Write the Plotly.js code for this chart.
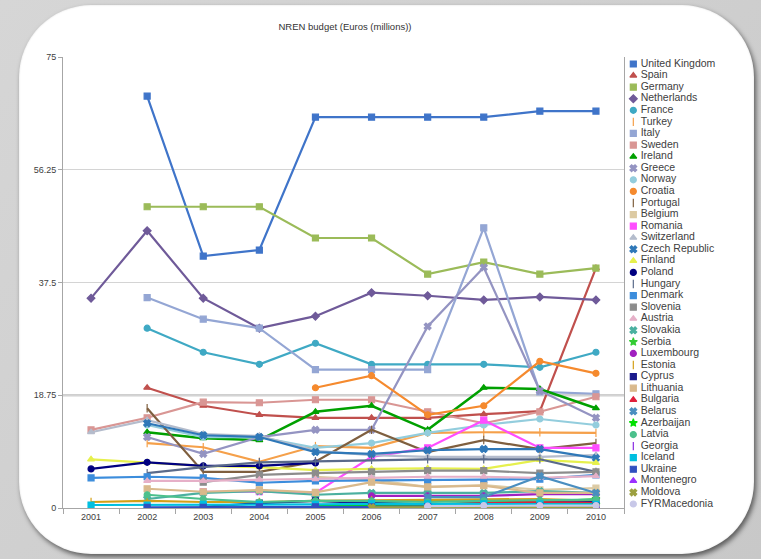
<!DOCTYPE html>
<html>
<head>
<meta charset="utf-8">
<script src="https://cdn.plot.ly/plotly-3.0.1.min.js"></script>
<style>
  html, body { margin:0; padding:0; width:761px; height:559px; overflow:hidden;
    background: linear-gradient(135deg, #d6d6d6 0%, #cfcfcf 50%, #c8c8c8 100%); font-family: "Liberation Sans", Arial, sans-serif; }
  #panel { position:absolute; left:19px; top:5px; width:735px; height:549px; background:#ffffff;
    border-radius:72px; box-shadow: 2px 3px 5px rgba(0,0,0,0.55), inset 0 0 2px rgba(0,0,0,0.15); }
  #chart { position:absolute; left:0; top:0; width:761px; height:559px; }
</style>
</head>
<body>
<div id="panel"></div>
<div id="chart"></div>
<script>
// ---- data (Euros, millions) ----
const years = ['2001','2002','2003','2004','2005','2006','2007','2008','2009','2010'];
const countries = ['United Kingdom','Spain','Germany','Netherlands','France','Turkey','Italy','Sweden','Ireland','Greece',
  'Norway','Croatia','Portugal','Belgium','Romania','Switzerland','Czech Republic','Finland','Poland','Hungary',
  'Denmark','Slovenia','Austria','Slovakia','Serbia','Luxembourg','Estonia','Cyprus','Lithuania','Bulgaria',
  'Belarus','Azerbaijan','Latvia','Georgia','Iceland','Ukraine','Montenegro','Moldova','FYRMacedonia'];

const unitedKingdom = [null, 68.5, 41.9, 42.9, 65.0, 65.0, 65.0, 65.0, 66.0, 66.0];
const spain         = [null, 20.0, 17.0, 15.5, 15.0, 15.0, 15.0, 15.6, 16.1, 39.9];
const germany       = [null, 50.1, 50.1, 50.1, 44.9, 44.9, 38.9, 40.9, 38.9, 39.9];
const netherlands   = [34.9, 46.1, 34.9, 29.9, 31.9, 35.8, 35.3, 34.6, 35.1, 34.6];
const france        = [null, 29.9, 25.9, 23.9, 27.4, 23.9, 23.9, 23.9, 23.4, 25.9];
const turkey        = [null, 10.8, 10.1, 7.7, 10.3, 10.0, 12.5, 12.6, 12.6, 12.5];
const italy         = [null, 35.0, 31.4, 29.9, 23.0, 23.0, 23.0, 46.6, 19.3, 19.0];
const sweden        = [13.0, 15.0, 17.6, 17.5, 18.0, 18.0, 16.0, 14.1, 16.0, 18.5];
const ireland       = [null, 12.6, 11.6, 11.3, 16.0, 17.0, 13.0, 20.0, 19.8, 16.6];
const greece        = [null, 11.8, 9.0, 11.8, 13.0, 13.0, 30.2, 40.0, 19.5, 15.0];
const norway        = [null, 13.8, 11.8, 11.8, 10.0, 10.8, 12.5, 13.8, 14.8, 13.8];
const croatia       = [null, null, null, null, 20.0, 22.0, 15.5, 17.0, 24.4, 22.4];
const portugal      = [null, 16.6, 6.0, 6.0, 7.7, 13.0, 9.3, 11.3, 9.8, 10.8];
const belgium       = [null, null, null, null, 5.2, 4.7, 3.5, 3.8, 3.0, 3.3];
const romania       = [null, null, 2.7, 2.7, 2.5, 8.5, 10.0, 14.6, 10.0, 10.0];
const switzerland   = [12.6, 14.6, 12.3, 12.0, 9.5, 8.8, 8.5, 8.5, 8.5, 8.8];
const czechRepublic = [null, 14.1, 12.1, 11.8, 9.3, 9.0, 9.6, 9.8, 9.8, 8.3];
const finland       = [8.1, 7.6, 7.0, 6.8, 6.3, 6.5, 6.6, 6.5, 8.0, 7.5];
const poland        = [6.5, 7.6, 7.0, 7.0, 7.5, null, null, null, null, null];
const hungary       = [null, 5.8, 6.8, 7.6, 7.8, 8.0, 8.1, 8.1, 8.1, 6.0];
const denmark       = [5.0, 5.2, 5.0, 4.2, 4.5, 4.6, 4.6, 4.7, 4.8, 5.5];
const slovenia      = [null, null, 4.3, 5.5, 5.8, 6.0, 6.2, 6.2, 5.8, 6.0];
const austria       = [null, 4.5, 4.5, 4.7, 4.8, 5.0, 5.2, 5.2, 5.0, 5.3];
const slovakia      = [null, 1.5, 2.5, 2.8, 2.2, 2.5, 2.5, 2.5, 2.8, 2.5];
const serbia        = [null, null, null, null, 1.2, 1.0, 1.2, 1.0, 1.0, 1.5];
const luxembourg    = [null, null, null, null, null, 2.0, 2.0, 2.0, 2.3, 2.3];
const estonia       = [1.0, 1.2, 1.0, 1.0, 1.2, 1.3, 1.4, 1.5, 1.5, 1.2];
const cyprus        = [null, null, 0.2, 0.8, 1.2, 0.8, 0.6, 0.8, 0.9, 1.0];
const lithuania     = [null, 3.2, 2.7, 3.0, 2.6, 4.3, 3.5, 3.7, 2.5, 2.5];
const bulgaria      = [null, null, null, null, 0.5, 0.5, 0.5, 0.8, 1.0, 0.8];
const belarus       = [null, null, null, null, null, null, 1.8, 1.8, 5.3, 2.5];
const azerbaijan    = [null, null, null, null, 0.3, 0.5, 0.5, 0.5, 0.6, 0.6];
const latvia        = [null, 2.2, 1.5, 1.0, 1.2, 1.2, 1.0, 1.2, 1.3, 1.4];
const georgia       = [null, null, null, null, null, 0.2, 0.2, 0.3, 0.3, 0.3];
const iceland       = [0.5, 0.5, 0.6, 0.6, 0.6, 0.7, 0.7, 0.7, 0.7, 0.6];
const ukraine       = [null, 0.1, 0.1, 0.2, 0.2, 0.2, 0.2, 0.2, 0.3, 0.3];
const montenegro    = [null, null, null, null, null, null, 0.3, 0.3, 0.3, 0.3];
const moldova       = [null, null, null, null, null, 0.1, 0.1, 0.1, 0.1, 0.2];
const fyrMacedonia  = [null, null, null, null, null, null, 0.3, 0.4, 0.4, 0.4];

const yTicks = [0, 18.75, 37.5, 56.25, 75];
const yTickText = ['0', '18.75', '37.5', '56.25', '75'];

// ---- styles ----
const seriesValues = [unitedKingdom, spain, germany, netherlands, france, turkey, italy, sweden, ireland, greece,
  norway, croatia, portugal, belgium, romania, switzerland, czechRepublic, finland, poland, hungary,
  denmark, slovenia, austria, slovakia, serbia, luxembourg, estonia, cyprus, lithuania, bulgaria,
  belarus, azerbaijan, latvia, georgia, iceland, ukraine, montenegro, moldova, fyrMacedonia];
const colors = ['#3f74c9','#c0504d','#9bbb59','#6f5a99','#3fa9c4','#f5a04a','#94a6d4','#d99694','#00a000','#9494c2',
  '#93cddd','#f58a2e','#7f5f3f','#dccaa3','#ff4dff','#b4bccc','#2f78b8','#e6f04d','#000080','#5a6a8a',
  '#3c8ddc','#8c8c8c','#e6b0c8','#4bb0a0','#33cc33','#a020c0','#d4a017','#1a1a8c','#d9b98c','#e0203c',
  '#4a8ec0','#00e000','#4cc08c','#8a2be2','#00bfe0','#3050c0','#9b30ff','#9ca040','#c8c8e8'];
const symbols = ['square','triangle-up','square','diamond','circle','line-ns','square','square','triangle-up','x',
  'circle','circle','line-ns','square','square','triangle-up','x','triangle-up','circle','line-ns',
  'square','square','triangle-up','x','star','circle','line-ns','square','square','triangle-up',
  'x','star','circle','line-ns','square','square','triangle-up','x','circle'];
const widths = countries.map((c) => (c === 'Ireland' ? 2.6 : 2.2));

const traces = seriesValues.map((vals, i) => ({
  type: 'scatter', mode: 'lines+markers', name: countries[i],
  x: years, y: vals, xaxis: 'x', yaxis: 'y',
  line: {color: colors[i], width: widths[i]},
  marker: {symbol: symbols[i], size: 6, color: colors[i], line: {color: colors[i], width: 1.2}},
  connectgaps: false, showlegend: false, hoverinfo: 'skip'
}));

// custom legend drawn on its own axes
const legendIdx = countries.map((c, i) => i);
traces.push({
  type: 'scatter', mode: 'markers', x: countries.map(() => 0.04), y: legendIdx,
  xaxis: 'x2', yaxis: 'y2', showlegend: false, hoverinfo: 'skip', cliponaxis: false,
  marker: {symbol: symbols, size: 6, color: colors, line: {color: colors, width: 1.2}}
});
traces.push({
  type: 'scatter', mode: 'text', x: countries.map(() => 0.095), y: legendIdx, text: countries,
  textposition: 'middle right', xaxis: 'x2', yaxis: 'y2', showlegend: false, hoverinfo: 'skip', cliponaxis: false,
  textfont: {family: 'Liberation Sans, Arial, sans-serif', size: 10.5, color: '#404040'}
});

const W = 761, H = 559;
const nLeg = countries.length;
const legTop = 64, legBottom = 504;
const legStep = (legBottom - legTop) / (nLeg - 1);
const layout = {
  width: W, height: H, margin: {l: 0, r: 0, t: 0, b: 0},
  paper_bgcolor: 'rgba(0,0,0,0)', plot_bgcolor: 'rgba(0,0,0,0)',
  showlegend: false, hovermode: false,
  font: {family: 'Liberation Sans, Arial, sans-serif', color: '#404040'},
  title: {text: 'NREN budget (Euros (millions))', x: 345 / W, xanchor: 'center', y: 1 - 27 / H, yanchor: 'middle',
          font: {family: 'Liberation Sans, Arial, sans-serif', size: 9.5, color: '#333333'}},
  xaxis: {type: 'category', categoryorder: 'array', categoryarray: years,
          domain: [63 / W, 624 / W], range: [-0.5, 9.5], anchor: 'y',
          showline: true, linecolor: '#a6a6a6', linewidth: 1, showgrid: false, zeroline: false,
          ticks: 'outside', tickson: 'boundaries', ticklen: 5, tickcolor: '#a6a6a6',
          tickfont: {size: 9, color: '#404040'}, fixedrange: true},
  yaxis: {domain: [1 - 508 / H, 1 - 57 / H], range: [0, 75], anchor: 'x',
          tickvals: yTicks, ticktext: yTickText, tickfont: {size: 9, color: '#404040'},
          showgrid: true, gridcolor: '#d4d4d4', gridwidth: 1, zeroline: false,
          showline: true, linecolor: '#a6a6a6', mirror: true, ticks: 'outside', ticklen: 4, tickcolor: '#a6a6a6',
          fixedrange: true},
  xaxis2: {domain: [628 / W, 1], range: [0, 1], visible: false, anchor: 'y2', fixedrange: true},
  yaxis2: {domain: [1 - (legBottom + legStep / 2) / H, 1 - (legTop - legStep / 2) / H],
           range: [nLeg - 0.5, -0.5], visible: false, anchor: 'x2', fixedrange: true},
  shapes: [{type: 'line', xref: 'x domain', yref: 'y', x0: 0, x1: 1, y0: 18.75, y1: 18.75,
            line: {color: '#cfcfcf', width: 2.5}, layer: 'below'}]
};

Plotly.newPlot('chart', traces, layout, {staticPlot: true, displayModeBar: false});
</script>
</body>
</html>
